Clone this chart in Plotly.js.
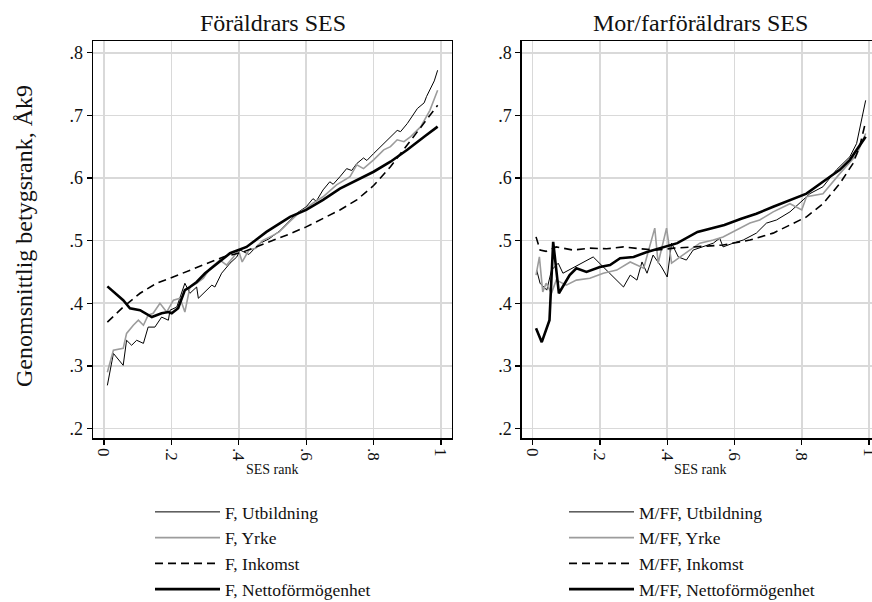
<!DOCTYPE html>
<html>
<head>
<meta charset="utf-8">
<script src="https://cdn.plot.ly/plotly-3.0.1.min.js"></script>
<style>
html,body{margin:0;padding:0;overflow:hidden;background:#fff;}
#chart{width:881px;height:602px;}
</style>
</head>
<body>
<div id="chart"></div>
<script>
// ---------- DATA ----------
// Left panel: Föräldrars SES
const fUtbX = [0.010,0.028,0.057,0.067,0.082,0.097,0.117,0.131,0.151,0.171,0.191,0.196,0.216,0.240,0.255,0.275,0.280,0.300,0.320,0.329,0.349,0.374,0.394,0.404,0.43,0.46,0.49,0.52,0.55,0.575,0.60,0.62,0.63,0.65,0.67,0.68,0.70,0.72,0.735,0.75,0.77,0.78,0.80,0.82,0.85,0.87,0.88,0.90,0.93,0.95,0.957,0.97,0.98,0.99];
const fUtbY = [0.269,0.320,0.301,0.341,0.333,0.341,0.336,0.362,0.362,0.378,0.373,0.389,0.394,0.432,0.416,0.426,0.408,0.418,0.429,0.426,0.448,0.464,0.474,0.485,0.478,0.495,0.503,0.515,0.532,0.545,0.554,0.567,0.563,0.581,0.594,0.590,0.602,0.615,0.612,0.623,0.632,0.628,0.639,0.650,0.666,0.676,0.674,0.687,0.711,0.720,0.730,0.744,0.755,0.772];

const fYrkX = [0.010,0.028,0.057,0.067,0.087,0.102,0.117,0.131,0.146,0.166,0.186,0.206,0.226,0.240,0.255,0.275,0.295,0.315,0.344,0.364,0.384,0.399,0.41,0.43,0.45,0.47,0.50,0.52,0.55,0.58,0.60,0.62,0.65,0.69,0.73,0.75,0.77,0.80,0.83,0.85,0.87,0.89,0.91,0.94,0.967,0.99];
const fYrkY = [0.290,0.325,0.328,0.352,0.365,0.373,0.365,0.381,0.384,0.400,0.386,0.405,0.408,0.386,0.426,0.432,0.440,0.456,0.469,0.461,0.474,0.485,0.466,0.485,0.488,0.500,0.508,0.514,0.530,0.545,0.552,0.560,0.570,0.589,0.602,0.621,0.615,0.629,0.645,0.650,0.661,0.658,0.666,0.682,0.708,0.740];

const fInkX = [0.010,0.057,0.107,0.156,0.205,0.255,0.304,0.354,0.413,0.453,0.502,0.552,0.60,0.65,0.70,0.75,0.80,0.85,0.90,0.95,0.99];
const fInkY = [0.370,0.394,0.416,0.432,0.442,0.453,0.464,0.474,0.482,0.490,0.501,0.511,0.522,0.535,0.549,0.565,0.588,0.618,0.653,0.687,0.716];

const fNetX = [0.010,0.057,0.077,0.107,0.142,0.171,0.191,0.201,0.220,0.240,0.255,0.275,0.300,0.320,0.349,0.374,0.398,0.423,0.482,0.552,0.60,0.65,0.70,0.75,0.80,0.85,0.90,0.95,0.99];
const fNetY = [0.427,0.405,0.392,0.389,0.378,0.384,0.386,0.384,0.392,0.421,0.426,0.434,0.448,0.456,0.469,0.480,0.485,0.490,0.514,0.538,0.549,0.565,0.583,0.597,0.610,0.626,0.645,0.666,0.682];

// Right panel: Mor/farföräldrars SES
const mUtbX = [0.012,0.022,0.042,0.056,0.076,0.090,0.180,0.270,0.290,0.310,0.325,0.340,0.358,0.383,0.400,0.413,0.433,0.457,0.477,0.507,0.537,0.556,0.566,0.596,0.626,0.665,0.695,0.725,0.765,0.804,0.824,0.863,0.903,0.943,0.963,0.990];
const mUtbY = [0.453,0.432,0.421,0.453,0.464,0.448,0.474,0.426,0.445,0.437,0.466,0.448,0.477,0.458,0.442,0.496,0.474,0.469,0.485,0.490,0.496,0.504,0.490,0.496,0.501,0.512,0.528,0.533,0.546,0.565,0.575,0.586,0.613,0.634,0.655,0.724];

const mYrkX = [0.010,0.020,0.030,0.040,0.056,0.070,0.100,0.130,0.170,0.210,0.250,0.290,0.330,0.363,0.373,0.398,0.413,0.438,0.467,0.497,0.537,0.566,0.606,0.646,0.675,0.715,0.765,0.800,0.814,0.863,0.913,0.963,0.990];
const mYrkY = [0.445,0.474,0.418,0.432,0.416,0.437,0.429,0.437,0.440,0.448,0.453,0.466,0.456,0.520,0.464,0.520,0.464,0.474,0.485,0.496,0.501,0.506,0.517,0.528,0.533,0.546,0.559,0.549,0.570,0.575,0.607,0.637,0.671];

const mInkX = [0.010,0.022,0.040,0.070,0.120,0.170,0.220,0.270,0.320,0.370,0.420,0.470,0.520,0.566,0.646,0.715,0.765,0.814,0.863,0.913,0.952,0.972,0.990];
const mInkY = [0.506,0.485,0.483,0.490,0.485,0.488,0.487,0.490,0.487,0.485,0.488,0.490,0.491,0.493,0.501,0.512,0.525,0.538,0.559,0.591,0.623,0.650,0.690];

const mNetX = [0.010,0.027,0.050,0.061,0.078,0.110,0.130,0.160,0.200,0.230,0.260,0.300,0.340,0.390,0.430,0.490,0.570,0.620,0.665,0.715,0.765,0.814,0.863,0.913,0.943,0.963,0.990];
const mNetY = [0.360,0.338,0.373,0.498,0.416,0.445,0.456,0.450,0.458,0.461,0.472,0.474,0.482,0.490,0.496,0.514,0.525,0.535,0.543,0.554,0.565,0.575,0.594,0.613,0.629,0.645,0.666];

const xTickVals = [0,0.2,0.4,0.6,0.8,1];
const xTickText = ['0','.2','.4','.6','.8','1'];
const yTickVals = [0.2,0.3,0.4,0.5,0.6,0.7,0.8];
const yTickText = ['.2','.3','.4','.5','.6','.7','.8'];

const leftNames = ['F, Utbildning','F, Yrke','F, Inkomst','F, Nettoförmögenhet'];
const rightNames = ['M/FF, Utbildning','M/FF, Yrke','M/FF, Inkomst','M/FF, Nettoförmögenhet'];

// ---------- STYLE ----------
const W = 881, H = 602;
const FONT = "'Liberation Serif', 'Times New Roman', serif";
const styles = [
  {color:'#000000', width:1.0, dash:'solid'},
  {color:'#9c9c9c', width:1.6, dash:'solid'},
  {color:'#000000', width:1.6, dash:'8px,5px'},
  {color:'#000000', width:2.6, dash:'solid'}
];

const leftData = [[fUtbX,fUtbY],[fYrkX,fYrkY],[fInkX,fInkY],[fNetX,fNetY]];
const rightData = [[mUtbX,mUtbY],[mYrkX,mYrkY],[mInkX,mInkY],[mNetX,mNetY]];

const traces = [];
leftData.forEach((d,i)=>{
  traces.push({x:d[0], y:d[1], type:'scatter', mode:'lines', name:leftNames[i],
    line:styles[i], xaxis:'x', yaxis:'y', legend:'legend', legendgroup:'L'+i, hoverinfo:'skip'});
});
rightData.forEach((d,i)=>{
  traces.push({x:d[0], y:d[1], type:'scatter', mode:'lines', name:rightNames[i],
    line:styles[i], xaxis:'x2', yaxis:'y2', legend:'legend2', legendgroup:'R'+i, hoverinfo:'skip'});
});

function px(x){return x/W;}
function py(y){return 1 - y/H;}

const xAxisBase = {
  range:[-0.0326,1.0326], tickvals:xTickVals, ticktext:xTickText, tickangle:90,
  showgrid:true, gridcolor:'#d9d9d9', gridwidth:1.6, zeroline:false,
  showline:true, linecolor:'#000', linewidth:1.3, mirror:true,
  ticks:'outside', ticklen:5, tickwidth:1.2, tickcolor:'#000',
  tickfont:{family:FONT, size:17, color:'#111'}, fixedrange:true
};
const yAxisBase = {
  range:[0.1845,0.8187], tickvals:yTickVals, ticktext:yTickText,
  showgrid:true, gridcolor:'#d9d9d9', gridwidth:1.6, zeroline:false,
  showline:true, linecolor:'#000', linewidth:1.3, mirror:true,
  ticks:'outside', ticklen:5, tickwidth:1.2, tickcolor:'#000',
  tickfont:{family:FONT, size:18, color:'#111'}, fixedrange:true
};

const legendBase = {
  orientation:'v', xanchor:'left', yanchor:'top', traceorder:'grouped',
  tracegroupgap:0, itemwidth:65, bgcolor:'rgba(0,0,0,0)', borderwidth:0,
  font:{family:FONT, size:17.5, color:'#111'}, itemclick:false, itemdoubleclick:false
};

const layout = {
  width:W, height:H, margin:{l:0,r:0,t:0,b:0,autoexpand:false},
  paper_bgcolor:'#fff', plot_bgcolor:'#fff', showlegend:true,
  xaxis:Object.assign({domain:[px(93),px(452)], anchor:'y'}, xAxisBase),
  yaxis:Object.assign({domain:[py(438.3),py(41)], anchor:'x'}, yAxisBase),
  xaxis2:Object.assign({domain:[px(521.7),px(880)], anchor:'y2'}, xAxisBase),
  yaxis2:Object.assign({domain:[py(438.3),py(41)], anchor:'x2'}, yAxisBase),
  legend:Object.assign({x:px(150), y:py(494)}, legendBase),
  legend2:Object.assign({x:px(564), y:py(494)}, legendBase),
  annotations:[
    {text:'Föräldrars SES', x:px(272.5), y:py(23), xref:'paper', yref:'paper', showarrow:false,
     xanchor:'center', yanchor:'middle', font:{family:FONT, size:24, color:'#111'}},
    {text:'Mor/farföräldrars SES', x:px(700.8), y:py(23), xref:'paper', yref:'paper', showarrow:false,
     xanchor:'center', yanchor:'middle', font:{family:FONT, size:24, color:'#111'}},
    {text:'Genomsnittlig betygsrank, Åk9', x:px(24), y:py(236), xref:'paper', yref:'paper', showarrow:false,
     textangle:-90, xanchor:'center', yanchor:'middle', font:{family:FONT, size:24, color:'#111'}},
    {text:'SES rank', x:px(272.5), y:py(469), xref:'paper', yref:'paper', showarrow:false,
     xanchor:'center', yanchor:'middle', font:{family:FONT, size:14, color:'#111'}},
    {text:'SES rank', x:px(700.8), y:py(469), xref:'paper', yref:'paper', showarrow:false,
     xanchor:'center', yanchor:'middle', font:{family:FONT, size:14, color:'#111'}}
  ]
};

Plotly.newPlot('chart', traces, layout, {staticPlot:true, displayModeBar:false});
</script>
</body>
</html>
